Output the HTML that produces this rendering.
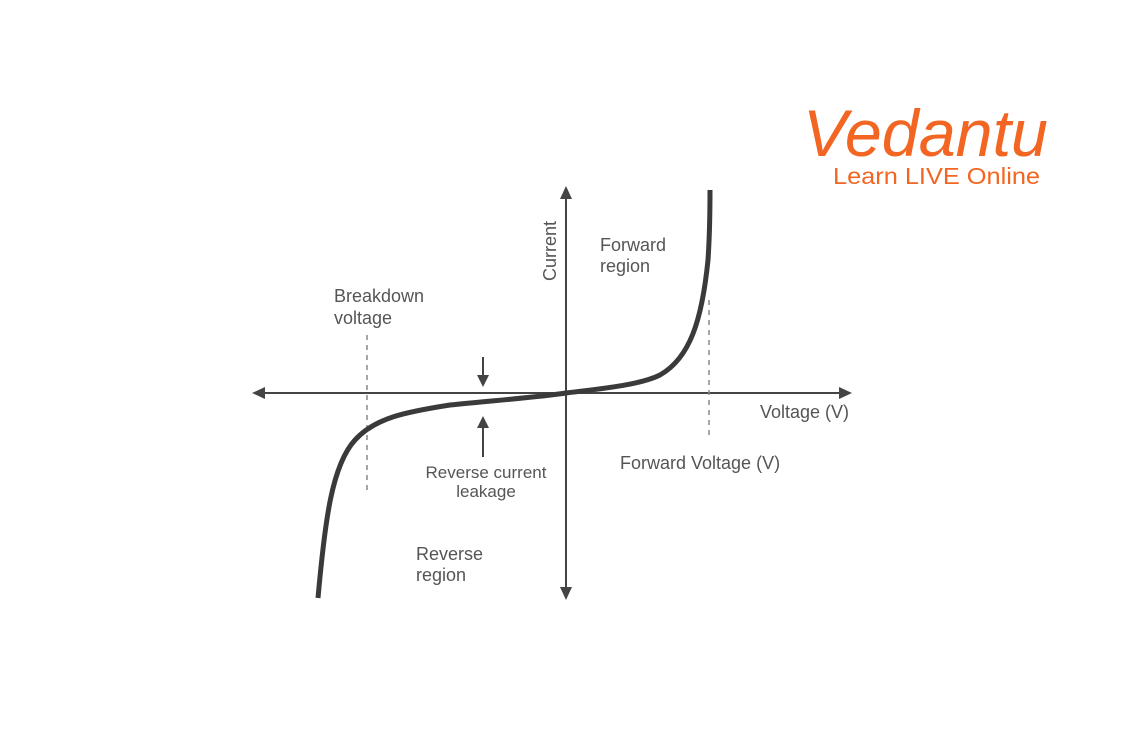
<!DOCTYPE html>
<html><head><style>body{margin:0;background:#fff}svg{display:block}</style></head>
<body>
<svg width="1134" height="756" viewBox="0 0 1134 756" xmlns="http://www.w3.org/2000/svg" font-family="Liberation Sans, sans-serif">
<rect width="1134" height="756" fill="#fff"/>
<g stroke="#444" stroke-width="2" fill="#444">
<line x1="262" y1="393" x2="842" y2="393"/>
<polygon points="252,393 265,387 265,399" stroke="none"/>
<polygon points="852,393 839,387 839,399" stroke="none"/>
<line x1="566" y1="196" x2="566" y2="590"/>
<polygon points="566,186 560,199 572,199" stroke="none"/>
<polygon points="566,600 560,587 572,587" stroke="none"/>
<line x1="483" y1="357" x2="483" y2="376"/>
<polygon points="483,387 477,375 489,375" stroke="none"/>
<line x1="483" y1="428" x2="483" y2="457"/>
<polygon points="483,416 477,428 489,428" stroke="none"/>
</g>
<g stroke="#888" stroke-width="1.5" stroke-dasharray="5,5">
<line x1="367" y1="335" x2="367" y2="490"/>
<line x1="709" y1="300" x2="709" y2="440"/>
</g>
<path d="M318,598 C325,520 332,465 355,440 C375,418 405,412 450,405 C500,400 540,397 566,393 C600,389 640,385 660,375 C690,358 702,320 708,260 C710,230 710,205 710,190" fill="none" stroke="#3a3a3a" stroke-width="5"/>
<g fill="#555" font-size="18">
<text x="600" y="251">Forward</text>
<text x="600" y="272">region</text>
<text x="334" y="302">Breakdown</text>
<text x="334" y="324">voltage</text>
<text x="760" y="418">Voltage (V)</text>
<text x="620" y="469">Forward Voltage (V)</text>
<text x="486" y="478" text-anchor="middle" font-size="17">Reverse current</text>
<text x="486" y="497" text-anchor="middle" font-size="17">leakage</text>
<text x="416" y="560">Reverse</text>
<text x="416" y="581">region</text>
<text transform="translate(556,281) rotate(-90)">Current</text>
</g>
<text x="803" y="156" font-style="italic" font-size="66" fill="#f26522" textLength="245" lengthAdjust="spacingAndGlyphs">Vedantu</text>
<text x="833" y="184" font-size="23" fill="#f26522" textLength="207" lengthAdjust="spacingAndGlyphs">Learn LIVE Online</text>
</svg>
</body></html>
